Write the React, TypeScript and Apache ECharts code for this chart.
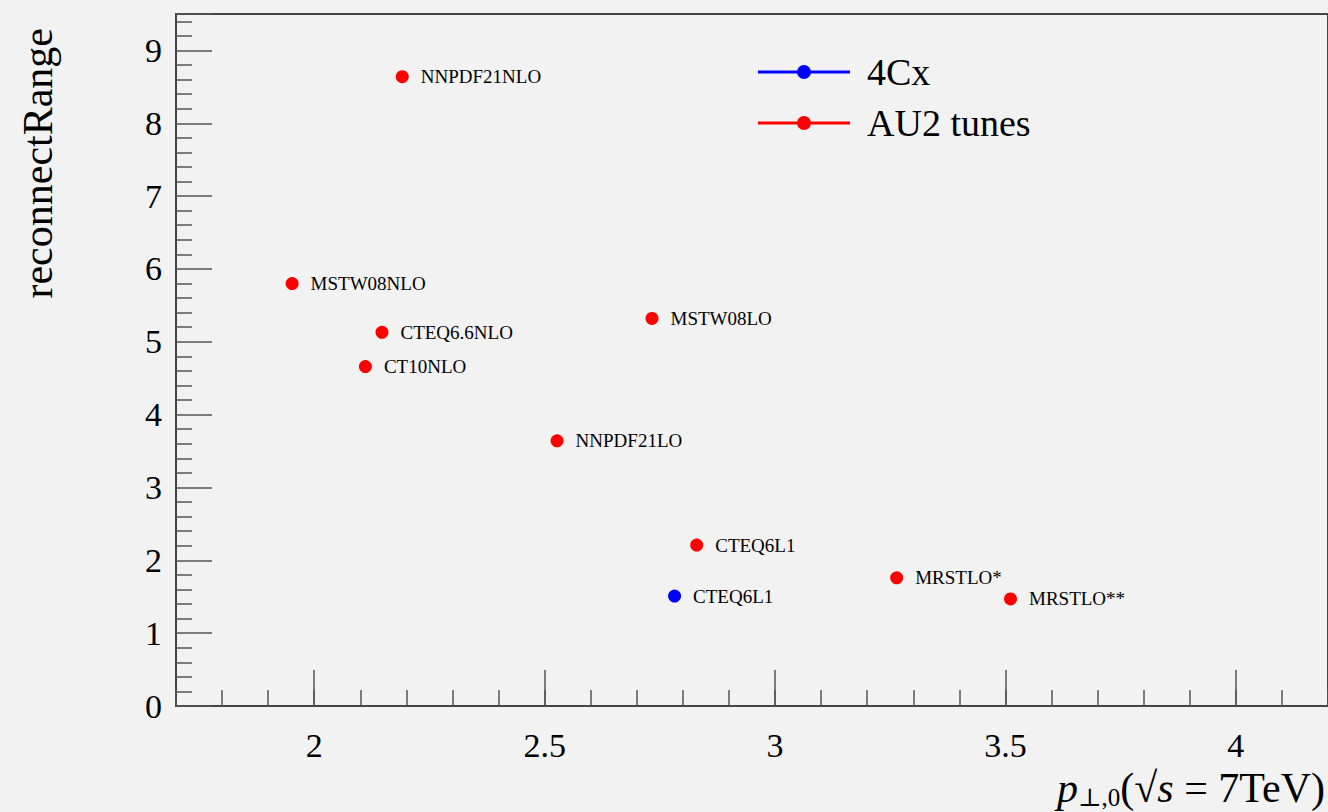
import React, { useEffect, useRef } from "react";
import * as echarts from "echarts";

const blueNames = ["CTEQ6L1"];
const blueX = [2.782];
const blueY = [1.51];

const redNames = [
  "NNPDF21NLO",
  "MSTW08NLO",
  "CTEQ6.6NLO",
  "CT10NLO",
  "MSTW08LO",
  "NNPDF21LO",
  "CTEQ6L1",
  "MRSTLO*",
  "MRSTLO**",
];
const redX = [2.191, 1.952, 2.147, 2.111, 2.733, 2.527, 2.83, 3.264, 3.511];
const redY = [8.64, 5.8, 5.13, 4.66, 5.32, 3.64, 2.21, 1.76, 1.47];

const seriesNames = ["4Cx", "AU2 tunes"];
const xMajorTicks = [2, 2.5, 3, 3.5, 4];
const xTickLabels = ["2", "2.5", "3", "3.5", "4"];

const FONT = "'Liberation Serif', 'DejaVu Serif', serif";
const legendIcon =
  "path://M0,5.5 L92,5.5 L92,8.5 L0,8.5 Z M39,7 A7,7 0 1,1 53,7 A7,7 0 1,1 39,7 Z";

export default function App() {
  const ref = useRef<HTMLDivElement>(null);
  useEffect(() => {
    document.body.style.margin = "0";
    const chart = echarts.init(ref.current!, undefined, { renderer: "svg" });
    const mk = (names: string[], xs: number[], ys: number[]) =>
      names.map((n, i) => ({ name: n, value: [xs[i], ys[i]] }));
    const labelStyle = {
      show: true,
      position: "right" as const,
      distance: 12,
      formatter: "{b}",
      fontFamily: FONT,
      fontSize: 19,
      color: "#000",
    };
    const axisColor = "#444";
    const tickStyle = { color: "#555", width: 1.5 };
    chart.setOption({
      animation: false,
      backgroundColor: "#f2f2f2",
      grid: {
        left: 176,
        top: 14,
        width: 1154,
        height: 692,
        show: true,
        borderColor: axisColor,
        borderWidth: 2,
        backgroundColor: "transparent",
      },
      legend: {
        left: 753,
        top: 47,
        orient: "vertical",
        itemWidth: 92,
        itemHeight: 14,
        itemGap: 11,
        icon: legendIcon,
        data: seriesNames,
        textStyle: {
          fontFamily: FONT,
          fontSize: 38,
          color: "#000",
          lineHeight: 40,
          padding: [0, 0, 0, 12],
        },
      },
      xAxis: [
        {
          type: "value",
          min: 1.7,
          max: 4.2,
          axisLine: { show: true, onZero: false, lineStyle: { color: axisColor, width: 2 } },
          axisTick: {
            show: true,
            inside: true,
            length: 36,
            customValues: xMajorTicks,
            lineStyle: tickStyle,
          },
          splitLine: { show: false },
          axisLabel: {
            margin: 22,
            fontFamily: FONT,
            fontSize: 34,
            color: "#000",
            customValues: xMajorTicks,
            formatter: (v: number) => {
              const i = xMajorTicks.findIndex((t) => Math.abs(t - v) < 1e-6);
              return i >= 0 ? xTickLabels[i] : "";
            },
          },
        },
        {
          type: "value",
          min: 1.7,
          max: 4.2,
          interval: 0.1,
          position: "bottom",
          axisLine: { show: false },
          axisTick: { show: true, inside: true, length: 16, lineStyle: tickStyle },
          axisLabel: { show: false },
          splitLine: { show: false },
        },
      ],
      yAxis: {
        type: "value",
        min: 0,
        max: 9.5,
        interval: 1,
        axisLine: { show: true, onZero: false, lineStyle: { color: axisColor, width: 2 } },
        axisTick: { show: true, inside: true, length: 36, lineStyle: tickStyle },
        minorTick: { show: true, splitNumber: 5, length: 16, lineStyle: tickStyle },
        splitLine: { show: false },
        axisLabel: {
          margin: 14,
          fontFamily: FONT,
          fontSize: 34,
          color: "#000",
          showMaxLabel: false,
        },
      },
      graphic: [
        {
          type: "text",
          x: 38,
          y: 28,
          rotation: Math.PI / 2,
          style: {
            text: "reconnectRange",
            fontFamily: FONT,
            fontSize: 42,
            fill: "#000",
            align: "right",
            verticalAlign: "middle",
          },
        },
        {
          type: "text",
          right: 3,
          bottom: 2,
          style: {
            text: "{i|p}{sub|⊥,0}(√{i|s} = 7TeV)",
            fontFamily: FONT,
            fontSize: 42,
            fill: "#000",
            rich: {
              i: { fontFamily: FONT, fontStyle: "italic", fontSize: 42, fill: "#000" },
              sub: { fontFamily: FONT, fontSize: 25, fill: "#000", padding: [20, 0, 0, 0] },
            },
          },
        },
      ],
      series: [
        {
          name: seriesNames[0],
          type: "scatter",
          symbol: "circle",
          symbolSize: 13,
          itemStyle: { color: "#0000ff", opacity: 1 },
          label: labelStyle,
          data: mk(blueNames, blueX, blueY),
        },
        {
          name: seriesNames[1],
          type: "scatter",
          symbol: "circle",
          symbolSize: 13,
          itemStyle: { color: "#ff0000", opacity: 1 },
          label: labelStyle,
          data: mk(redNames, redX, redY),
        },
      ],
    });
    return () => chart.dispose();
  }, []);
  return <div ref={ref} style={{ width: 1328, height: 812 }} />;
}
